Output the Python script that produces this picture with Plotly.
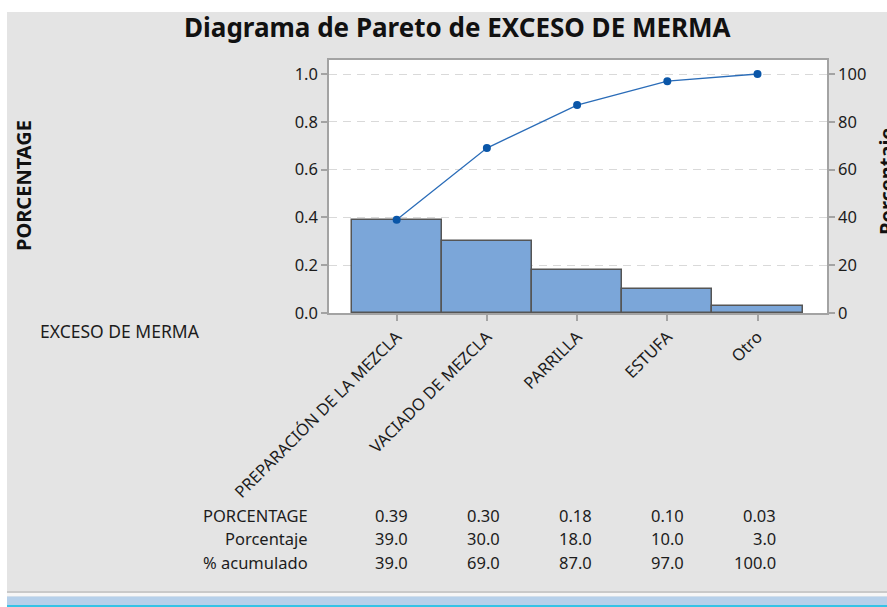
import plotly.graph_objects as go

# Pareto data for EXCESO DE MERMA
categories = ["PREPARACIÓN DE LA MEZCLA", "VACIADO DE MEZCLA", "PARRILLA", "ESTUFA", "Otro"]
proportion = [0.39, 0.30, 0.18, 0.10, 0.03]
percent = [39.0, 30.0, 18.0, 10.0, 3.0]
cumulative = [39.0, 69.0, 87.0, 97.0, 100.0]
left_ticks = [0.0, 0.2, 0.4, 0.6, 0.8, 1.0]
right_ticks = [0, 20, 40, 60, 80, 100]

W, H = 887, 607
L, R, T, B = 329, 827, 60, 313  # plot area in pixels

FONT = "Noto Sans"
TXT = "#1c1c1c"
AXC = "#a3a3a3"
FS = 16.5


def px(x):
    return (x - L) / (R - L)


def py(y):
    return (B - y) / (B - T)


xs = list(range(len(categories)))

fig = go.Figure()
fig.add_trace(go.Bar(
    x=xs, y=proportion, width=1.0,
    marker=dict(color="#7ba6d9", line=dict(color="#555555", width=1.5)),
    yaxis="y", showlegend=False,
))
fig.add_trace(go.Scatter(
    x=xs, y=cumulative, mode="lines+markers",
    line=dict(color="#2a6cb8", width=1.3),
    marker=dict(color="#0a56a8", size=8),
    yaxis="y2", showlegend=False,
))

fig.update_layout(
    width=W, height=H,
    margin=dict(l=L, r=W - R, t=T, b=H - B, pad=0),
    paper_bgcolor="#e4e4e4",
    plot_bgcolor="white",
    font=dict(family=FONT, color=TXT, size=FS),
    bargap=0,
    xaxis=dict(
        range=[-0.75, 4.77], tickvals=xs, ticktext=categories,
        tickangle=-45, tickfont=dict(size=FS),
        showline=True, linecolor=AXC, linewidth=1.5, mirror=True,
        ticks="outside", ticklen=6, tickcolor=AXC, tickwidth=1.5,
        showgrid=False, zeroline=False,
    ),
    yaxis=dict(
        range=[0, 1.0586], tickvals=left_ticks, tickformat=".1f",
        showline=True, linecolor=AXC, linewidth=1.5, mirror=True,
        ticks="outside", ticklen=6, tickcolor=AXC, tickwidth=1.5,
        showgrid=True, gridcolor="#d9d9d9", gridwidth=1, griddash="8px,6px",
        zeroline=False, tickfont=dict(size=FS),
    ),
    yaxis2=dict(
        range=[0, 105.86], tickvals=right_ticks, overlaying="y", side="right",
        showline=True, linecolor=AXC, linewidth=1.5,
        ticks="outside", ticklen=6, tickcolor=AXC, tickwidth=1.5,
        showgrid=False, zeroline=False, tickfont=dict(size=FS),
    ),
)

shapes = [
    # white frame strips at top and left
    dict(type="rect", xref="paper", yref="paper", x0=px(0), x1=px(W), y0=py(12), y1=py(-5),
         fillcolor="white", line=dict(width=0)),
    dict(type="rect", xref="paper", yref="paper", x0=px(-5), x1=px(7), y0=py(H + 5), y1=py(0),
         fillcolor="white", line=dict(width=0)),
    # bottom window strip
    dict(type="rect", xref="paper", yref="paper", x0=px(7), x1=px(W + 5), y0=py(593), y1=py(591),
         fillcolor="#c9c9c9", line=dict(width=0)),
    dict(type="rect", xref="paper", yref="paper", x0=px(7), x1=px(W + 5), y0=py(596.5), y1=py(593),
         fillcolor="#f6f6f6", line=dict(width=0)),
    dict(type="rect", xref="paper", yref="paper", x0=px(7), x1=px(W + 5), y0=py(605), y1=py(596.5),
         fillcolor="#b6d0ea", line=dict(width=0)),
    dict(type="rect", xref="paper", yref="paper", x0=px(7), x1=px(W + 5), y0=py(H + 5), y1=py(605),
         fillcolor="#35c3e6", line=dict(width=0)),
]
fig.update_layout(shapes=shapes)

ann = []
ann.append(dict(text="<b>Diagrama de Pareto de EXCESO DE MERMA</b>", xref="paper", yref="paper",
                x=px(457), y=py(27), xanchor="center", yanchor="middle", showarrow=False,
                font=dict(size=26, color="#111111")))
ann.append(dict(text="<b>PORCENTAGE</b>", xref="paper", yref="paper",
                x=px(23), y=py(186), xanchor="center", yanchor="middle", textangle=-90,
                showarrow=False, font=dict(size=20, color="#111111")))
ann.append(dict(text="<b>Porcentaje</b>", xref="paper", yref="paper",
                x=px(886), y=py(182), xanchor="center", yanchor="middle", textangle=-90,
                showarrow=False, font=dict(size=20, color="#111111")))
ann.append(dict(text="EXCESO DE MERMA", xref="paper", yref="paper",
                x=px(38), y=py(331), xanchor="left", yanchor="middle",
                showarrow=False, font=dict(size=17.5)))

# summary table below the chart
row_names = ["PORCENTAGE", "Porcentaje", "% acumulado"]
row_values = [
    [f"{v:.2f}" for v in proportion],
    [f"{v:.1f}" for v in percent],
    [f"{v:.1f}" for v in cumulative],
]
row_y = [515, 538, 562]
col_right = [410 + 92 * i for i in range(len(categories))]
for name, vals, yy in zip(row_names, row_values, row_y):
    ann.append(dict(text=name, xref="paper", yref="paper", x=px(310), y=py(yy),
                    xanchor="right", yanchor="middle", showarrow=False, font=dict(size=FS)))
    for v, cx in zip(vals, col_right):
        ann.append(dict(text=v, xref="paper", yref="paper", x=px(cx), y=py(yy),
                        xanchor="right", yanchor="middle", showarrow=False, font=dict(size=FS)))
fig.update_layout(annotations=ann)

fig.write_html("out.html")
